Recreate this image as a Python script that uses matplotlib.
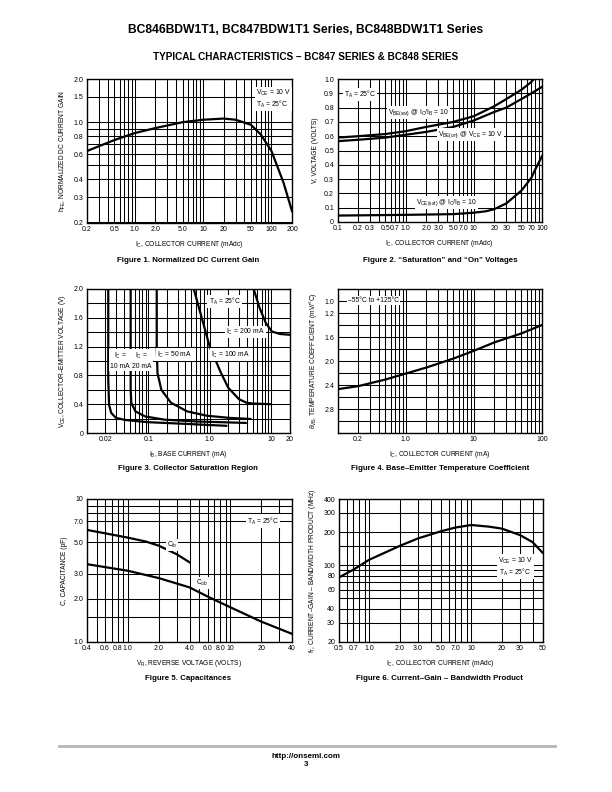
import numpy as np
import matplotlib.pyplot as plt
from matplotlib.ticker import NullFormatter

plt.rcParams['font.family'] = ['Liberation Sans Narrow', 'Liberation Sans', 'DejaVu Sans']
plt.rcParams['mathtext.fontset'] = 'custom'
plt.rcParams['mathtext.rm'] = 'Liberation Sans'
plt.rcParams['mathtext.it'] = 'Liberation Sans:italic'

# ---------------- data ----------------
# Figure 1 - normalized DC current gain
ic1 = [0.2, 0.5, 1.0, 2.0, 5.0, 10, 20, 30, 50, 70, 100, 150, 200]
hfe1 = [0.63, 0.75, 0.84, 0.91, 1.0, 1.04, 1.06, 1.04, 0.96, 0.82, 0.63, 0.38, 0.24]

# Figure 2 - saturation and on voltages
ic2_sat = [0.1, 0.2, 0.5, 1.0, 2.0, 5.0, 10, 20, 30, 50, 70, 76]
vbe_sat = [0.59, 0.60, 0.615, 0.635, 0.665, 0.70, 0.74, 0.81, 0.86, 0.925, 0.98, 1.0]
ic2_on = [0.1, 0.2, 0.5, 1.0, 2.0, 5.0, 10, 20, 30, 50, 70, 100]
vbe_on = [0.565, 0.575, 0.59, 0.61, 0.63, 0.665, 0.71, 0.77, 0.80, 0.86, 0.90, 0.945]
ic2_ce = [0.1, 1.0, 5.0, 10, 15, 20, 30, 50, 70, 80, 100]
vce_sat = [0.045, 0.05, 0.055, 0.065, 0.075, 0.09, 0.13, 0.22, 0.31, 0.37, 0.46]

# Figure 3 - collector saturation region
ib_10 = [0.0222, 0.0222, 0.0229, 0.0248, 0.0296, 0.0427, 0.1, 0.338, 1.86]
vce_10 = [2.0, 0.74, 0.39, 0.28, 0.21, 0.18, 0.15, 0.13, 0.10]
ib_20 = [0.0515, 0.0515, 0.0527, 0.0615, 0.0886, 0.184, 0.62, 3.86]
vce_20 = [2.0, 0.60, 0.42, 0.30, 0.23, 0.185, 0.16, 0.14]
ib_50 = [0.137, 0.137, 0.141, 0.163, 0.234, 0.43, 0.90, 2.09, 4.6]
vce_50 = [2.0, 1.2, 0.83, 0.60, 0.42, 0.30, 0.24, 0.21, 0.195]
ib_100 = [0.55, 0.8, 1.0, 1.5, 2.0, 3.0, 4.0, 5.0, 9.6]
vce_100 = [2.0, 1.5, 1.2, 0.85, 0.63, 0.47, 0.42, 0.41, 0.40]
ib_200 = [5.2, 6.5, 8.2, 10.3, 14.0, 20]
vce_200 = [2.0, 1.74, 1.53, 1.41, 1.375, 1.365]

# Figure 4 - base-emitter temperature coefficient
ic4 = [0.1, 0.2, 0.5, 1.0, 2.0, 5.0, 10, 20, 50, 100]
tc4 = [2.47, 2.42, 2.31, 2.21, 2.11, 1.96, 1.83, 1.69, 1.54, 1.40]

# Figure 5 - capacitances
vr_ib = [0.4, 1.0, 1.5, 2.0, 3.0, 4.0]
c_ib = [6.08, 5.37, 5.04, 4.72, 4.11, 3.61]
vr_ob = [0.4, 1.0, 2.0, 4.0, 6.0, 10, 20, 40]
c_ob = [3.50, 3.15, 2.80, 2.41, 2.08, 1.75, 1.39, 1.14]

# Figure 6 - current gain bandwidth product
ic6 = [0.5, 0.7, 1.0, 2.0, 3.0, 5.0, 7.0, 10, 15, 20, 30, 40, 50]
ft6 = [77, 91, 112, 150, 175, 203, 220, 232, 224, 215, 188, 162, 130]

# ---------------- page ----------------
W, H = 612, 792
fig = plt.figure(figsize=(6.12, 7.92), dpi=100)

def box(l, r, t, b):
    return fig.add_axes([l / W, 1 - b / H, (r - l) / W, (b - t) / H])

def decades(lo, hi):
    vals = []
    d = 10.0 ** np.floor(np.log10(lo) + 1e-9)
    while d < hi * 1.0001:
        for k in range(1, 10):
            v = round(k * d, 6)
            if lo * 0.9999 <= v <= hi * 1.0001:
                vals.append(v)
        d *= 10
    return vals

def style(ax, xgrid, ygrid, xt, xl, yt, yl):
    ax.set_xticks(xt)
    ax.set_xticklabels(xl)
    ax.set_yticks(yt)
    ax.set_yticklabels(yl)
    ax.set_xticks(xgrid, minor=True)
    ax.set_yticks(ygrid, minor=True)
    ax.xaxis.set_minor_formatter(NullFormatter())
    ax.yaxis.set_minor_formatter(NullFormatter())
    ax.tick_params(which='both', length=0, labelsize=5.0, pad=2.5)
    ax.grid(True, which='both', color='black', lw=0.75)
    ax.set_axisbelow(True)
    for s in ax.spines.values():
        s.set_linewidth(1.0)

lw = 1.6
tb = dict(fc='white', ec='none', pad=0.8)
fs = 4.9
lab = 4.8

# Figure 1
ax1 = box(87, 292, 79, 222.5)
ax1.set_xscale('log'); ax1.set_yscale('log')
ax1.set_xlim(0.2, 200); ax1.set_ylim(0.2, 2.0)
style(ax1, decades(0.2, 200), [0.2, 0.3, 0.4, 0.5, 0.6, 0.7, 0.8, 0.9, 1.0, 1.5, 2.0],
      [0.2, 0.5, 1, 2, 5, 10, 20, 50, 100, 200],
      ['0.2', '0.5', '1.0', '2.0', '5.0', '10', '20', '50', '100', '200'],
      [0.2, 0.3, 0.4, 0.6, 0.8, 1.0, 1.5, 2.0],
      ['0.2', '0.3', '0.4', '0.6', '0.8', '1.0', '1.5', '2.0'])
ax1.plot(ic1, hfe1, color='black', lw=lw)
ax1.text(60, 1.45, r'V$_{\mathrm{CE}}$ = 10 V' + '\n' + r'T$_{\mathrm{A}}$ = 25°C',
         fontsize=fs, va='center', ha='left', bbox=tb, linespacing=1.1)
ax1.set_xlabel(r'I$_{\mathrm{C}}$, COLLECTOR CURRENT (mAdc)', fontsize=lab, labelpad=4)
ax1.set_ylabel(r'h$_{\mathrm{FE}}$, NORMALIZED DC CURRENT GAIN', fontsize=lab, labelpad=4)

# Figure 2
ax2 = box(337.5, 542, 79, 222)
ax2.set_xscale('log')
ax2.set_xlim(0.1, 100); ax2.set_ylim(0, 1.0)
yv2 = [round(0.1 * k, 1) for k in range(11)]
style(ax2, decades(0.1, 100), yv2,
      [0.1, 0.2, 0.3, 0.5, 0.7, 1, 2, 3, 5, 7, 10, 20, 30, 50, 70, 100],
      ['0.1', '0.2', '0.3', '0.5', '0.7', '1.0', '2.0', '3.0', '5.0', '7.0', '10',
       '20', '30', '50', '70', '100'],
      yv2, ['0', '0.1', '0.2', '0.3', '0.4', '0.5', '0.6', '0.7', '0.8', '0.9', '1.0'])
ax2.plot(ic2_sat, vbe_sat, color='black', lw=lw)
ax2.plot(ic2_on, vbe_on, color='black', lw=lw)
ax2.plot(ic2_ce, vce_sat, color='black', lw=lw)
ax2.text(0.125, 0.89, r'T$_{\mathrm{A}}$ = 25°C', fontsize=fs, va='center', bbox=tb)
ax2.text(1.55, 0.765, r'V$_{\mathrm{BE(sat)}}$ @ I$_{\mathrm{C}}$/I$_{\mathrm{B}}$ = 10',
         fontsize=fs, ha='center', va='center', bbox=tb)
ax2.text(9.0, 0.61, r'V$_{\mathrm{BE(on)}}$ @ V$_{\mathrm{CE}}$ = 10 V',
         fontsize=fs, ha='center', va='center', bbox=tb)
ax2.text(4.0, 0.135, r'V$_{\mathrm{CE(sat)}}$ @ I$_{\mathrm{C}}$/I$_{\mathrm{B}}$ = 10',
         fontsize=fs, ha='center', va='center', bbox=tb)
ax2.set_xlabel(r'I$_{\mathrm{C}}$, COLLECTOR CURRENT (mAdc)', fontsize=lab, labelpad=4)
ax2.set_ylabel('V, VOLTAGE (VOLTS)', fontsize=lab, labelpad=4)

# Figure 3
ax3 = box(87, 289.5, 289, 433)
ax3.set_xscale('log')
ax3.set_xlim(0.01, 20); ax3.set_ylim(0, 2.0)
yv3 = [round(0.2 * k, 1) for k in range(11)]
style(ax3, decades(0.01, 20), yv3,
      [0.02, 0.1, 1, 10, 20], ['0.02', '0.1', '1.0', '10', '20'],
      [0, 0.4, 0.8, 1.2, 1.6, 2.0], ['0', '0.4', '0.8', '1.2', '1.6', '2.0'])
for xs, ys in [(ib_10, vce_10), (ib_20, vce_20), (ib_50, vce_50),
               (ib_100, vce_100), (ib_200, vce_200)]:
    ax3.plot(xs, ys, color='black', lw=lw)
ax3.text(0.0346, 1.01, r'I$_{\mathrm{C}}$ =' + '\n10 mA', fontsize=fs, ha='center',
         va='center', bbox=tb, linespacing=1.3)
ax3.text(0.078, 1.01, r'I$_{\mathrm{C}}$ =' + '\n20 mA', fontsize=fs, ha='center',
         va='center', bbox=tb, linespacing=1.3)
ax3.text(0.265, 1.09, r'I$_{\mathrm{C}}$ = 50 mA', fontsize=fs, ha='center', va='center', bbox=tb)
ax3.text(2.2, 1.09, r'I$_{\mathrm{C}}$ = 100 mA', fontsize=fs, ha='center', va='center', bbox=tb)
ax3.text(3.86, 1.40, r'I$_{\mathrm{C}}$ = 200 mA', fontsize=fs, ha='center', va='center', bbox=tb)
ax3.text(1.75, 1.83, r'T$_{\mathrm{A}}$ = 25°C', fontsize=fs, ha='center', va='center', bbox=tb)
ax3.set_xlabel(r'I$_{\mathrm{B}}$, BASE CURRENT (mA)', fontsize=lab, labelpad=4)
ax3.set_ylabel(r'V$_{\mathrm{CE}}$, COLLECTOR–EMITTER VOLTAGE (V)', fontsize=lab, labelpad=4)

# Figure 4
ax4 = box(337.5, 542, 289, 433)
ax4.set_xscale('log')
ax4.set_xlim(0.1, 100); ax4.set_ylim(3.2, 0.8)
yv4 = [round(0.8 + 0.2 * k, 1) for k in range(13)]
style(ax4, decades(0.1, 100), yv4,
      [0.2, 1, 10, 100], ['0.2', '1.0', '10', '100'],
      [1.0, 1.2, 1.6, 2.0, 2.4, 2.8], ['1.0', '1.2', '1.6', '2.0', '2.4', '2.8'])
ax4.plot(ic4, tc4, color='black', lw=lw)
ax4.text(0.34, 0.99, '–55°C to +125°C', fontsize=fs, ha='center', va='center', bbox=tb)
ax4.set_xlabel(r'I$_{\mathrm{C}}$, COLLECTOR CURRENT (mA)', fontsize=lab, labelpad=4)
ax4.set_ylabel(r'$\theta_{\mathrm{VB}}$, TEMPERATURE COEFFICIENT (mV/°C)', fontsize=lab, labelpad=4)

# Figure 5
ax5 = box(87, 292, 499, 642)
ax5.set_xscale('log'); ax5.set_yscale('log')
ax5.set_xlim(0.4, 40); ax5.set_ylim(1.0, 10)
style(ax5, decades(0.4, 40), [1.0, 1.5, 2.0, 3.0, 5.0, 7.0, 8.0, 9.0, 10],
      [0.4, 0.6, 0.8, 1, 2, 4, 6, 8, 10, 20, 40],
      ['0.4', '0.6', '0.8', '1.0', '2.0', '4.0', '6.0', '8.0', '10', '20', '40'],
      [1.0, 2.0, 3.0, 5.0, 7.0, 10], ['1.0', '2.0', '3.0', '5.0', '7.0', '10'])
ax5.plot(vr_ib, c_ib, color='black', lw=lw)
ax5.plot(vr_ob, c_ob, color='black', lw=lw)
ax5.text(2.7, 4.77, r'C$_{\mathrm{ib}}$', fontsize=fs, ha='center', va='center', bbox=tb)
ax5.text(5.3, 2.58, r'C$_{\mathrm{ob}}$', fontsize=fs, ha='center', va='center', bbox=tb)
ax5.text(21, 7.0, r'T$_{\mathrm{A}}$ = 25°C', fontsize=fs, ha='center', va='center', bbox=tb)
ax5.set_xlabel(r'V$_{\mathrm{R}}$, REVERSE VOLTAGE (VOLTS)', fontsize=lab, labelpad=4)
ax5.set_ylabel('C, CAPACITANCE (pF)', fontsize=lab, labelpad=4)

# Figure 6
ax6 = box(338.5, 542.5, 499, 642)
ax6.set_xscale('log'); ax6.set_yscale('log')
ax6.set_xlim(0.5, 50); ax6.set_ylim(20, 400)
style(ax6, decades(0.5, 50), [20, 30, 40, 50, 60, 70, 80, 90, 100, 150, 200, 300, 400],
      [0.5, 0.7, 1, 2, 3, 5, 7, 10, 20, 30, 50],
      ['0.5', '0.7', '1.0', '2.0', '3.0', '5.0', '7.0', '10', '20', '30', '50'],
      [20, 30, 40, 60, 80, 100, 200, 300, 400],
      ['20', '30', '40', '60', '80', '100', '200', '300', '400'])
ax6.plot(ic6, ft6, color='black', lw=lw)
ax6.text(27, 97, r'V$_{\mathrm{CE}}$ = 10 V' + '\n' + r'T$_{\mathrm{A}}$ = 25°C',
         fontsize=fs, ha='center', va='center', bbox=tb, linespacing=1.1)
ax6.set_xlabel(r'I$_{\mathrm{C}}$, COLLECTOR CURRENT (mAdc)', fontsize=lab, labelpad=4)
ax6.set_ylabel(r'f$_{\mathrm{T}}$, CURRENT–GAIN – BANDWIDTH PRODUCT (MHz)', fontsize=lab, labelpad=4)

# ---------------- page text ----------------
def ptext(x, y, s, **kw):
    fig.text(x / W, 1 - y / H, s, ha='center', va='center', **kw)

bold = ['Liberation Sans', 'DejaVu Sans']
ptext(306, 30, 'BC846BDW1T1, BC847BDW1T1 Series, BC848BDW1T1 Series',
      fontsize=8.7, fontweight='bold', family=bold)
ptext(306, 57, 'TYPICAL CHARACTERISTICS – BC847 SERIES & BC848 SERIES',
      fontsize=7.2, fontweight='bold', family=bold)
caps = [(188, 260, 'Figure 1. Normalized DC Current Gain'),
        (440, 260, 'Figure 2. “Saturation” and “On” Voltages'),
        (188, 469, 'Figure 3. Collector Saturation Region'),
        (440, 469, 'Figure 4. Base–Emitter Temperature Coefficient'),
        (188, 679, 'Figure 5. Capacitances'),
        (440, 679, 'Figure 6. Current–Gain – Bandwidth Product')]
for x, y, s in caps:
    ptext(x, y, s, fontsize=5.7, fontweight='bold', family=bold)

fig.add_artist(plt.Line2D([59 / W, 555 / W], [1 - 746 / H, 1 - 746 / H],
                          color='#b5b5b5', lw=2.0))
ptext(306, 756, 'http://onsemi.com', fontsize=5.8, fontweight='bold', family=bold)
ptext(306, 764, '3', fontsize=5.8, fontweight='bold', family=bold)

fig.savefig('out.png', dpi=100)
